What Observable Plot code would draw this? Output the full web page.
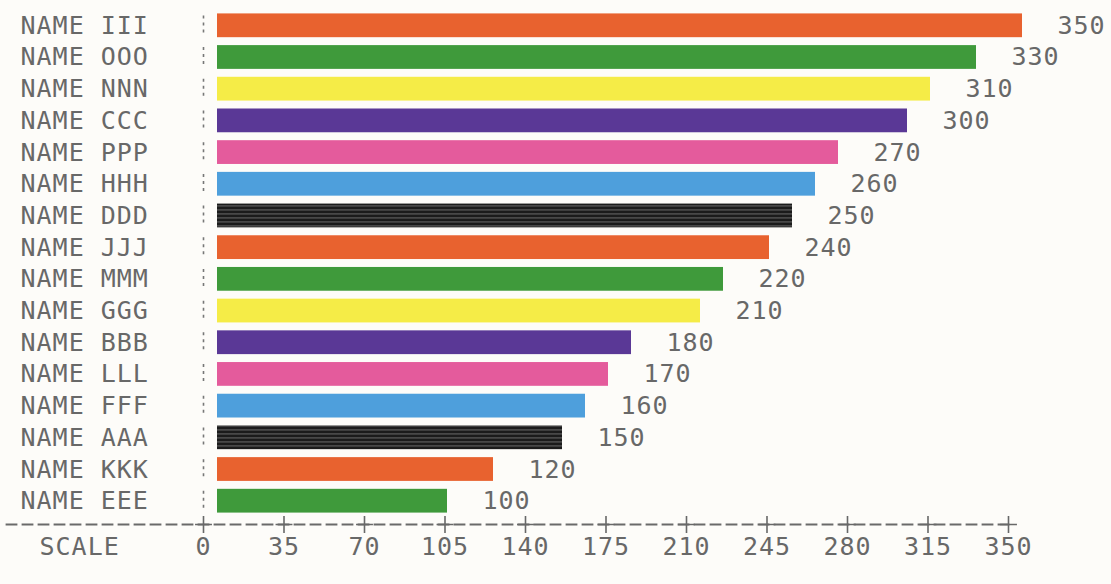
<!DOCTYPE html>
<html>
<head>
<meta charset="utf-8">
<script src="https://cdn.jsdelivr.net/npm/d3@7"></script>
<script src="https://cdn.jsdelivr.net/npm/@observablehq/plot@0.6"></script>
<style>
  html, body { margin: 0; padding: 0; background: #fdfcf9; }
</style>
</head>
<body>
<div id="chart"></div>
<script>
const names = ["NAME III","NAME OOO","NAME NNN","NAME CCC","NAME PPP","NAME HHH","NAME DDD","NAME JJJ",
               "NAME MMM","NAME GGG","NAME BBB","NAME LLL","NAME FFF","NAME AAA","NAME KKK","NAME EEE"];
const values = [350,330,310,300,270,260,250,240,220,210,180,170,160,150,120,100];
const palette = ["#e8622f","#3f9a3b","#f5ec47","#5a3896","#e45b9c","#4e9fdc","url(#streak)"];
const scaleTicks = [0,35,70,105,140,175,210,245,280,315,350];
const scaleLabel = "SCALE";

const data = names.map((n, i) => ({name: n, value: values[i], color: palette[i % palette.length]}));

const FONT = "DejaVu Sans Mono";
const INK = "#686868";
const FS = 25;

const chart = Plot.plot({
  width: 1111,
  height: 584,
  marginLeft: 203,
  marginRight: 103,
  marginTop: 2,
  marginBottom: 60,
  x: {domain: [0, 350], axis: null},
  y: {domain: names, axis: null, paddingInner: 0.25, paddingOuter: 0.36, round: false},
  color: {type: "identity"},
  style: {background: "#fdfcf9", fontFamily: FONT, color: INK, overflow: "visible", letterSpacing: "1px"},
  marks: [
    Plot.barX(data, {x: "value", y: "name", fill: "color", dx: 14}),
    Plot.tickX(data, {x: () => 0, y: "name", stroke: "#777", strokeWidth: 1.6, strokeDasharray: "3,4", insetTop: 2, insetBottom: 2}),
    Plot.text(data, {y: "name", text: "name", frameAnchor: "left", dx: -183, textAnchor: "start", fontSize: FS, fill: INK}),
    Plot.text(data, {x: "value", y: "name", text: d => String(d.value), textAnchor: "start", dx: 49, dy: 0, fontSize: FS, fill: INK}),
    Plot.frame({anchor: "bottom", stroke: "#6a6a6a", strokeWidth: 1.8, strokeDasharray: "10,6", strokeDashoffset: -4, insetLeft: -201}),
    Plot.dot(scaleTicks, {x: d => d, frameAnchor: "bottom", symbol: "plus", r: 5.5, stroke: INK, strokeWidth: 1.6}),
    Plot.text(scaleTicks, {x: d => d, text: d => String(d), frameAnchor: "bottom", dy: 30, fontSize: FS, fill: INK}),
    Plot.text([scaleLabel], {text: d => d, frameAnchor: "bottom-left", dx: -164, dy: 30, textAnchor: "start", fontSize: FS, fill: INK})
  ]
});

const svg = chart.tagName.toLowerCase() === "svg" ? chart : chart.querySelector("svg");
const ns = "http://www.w3.org/2000/svg";
const defs = document.createElementNS(ns, "defs");
defs.innerHTML = `<pattern id="streak" width="12" height="4" patternUnits="userSpaceOnUse">
  <rect width="12" height="4" fill="#1b1b1b"></rect>
  <rect y="1.6" width="12" height="0.7" fill="#8a8a8a"></rect>
</pattern>`;
svg.insertBefore(defs, svg.firstChild);
document.getElementById("chart").appendChild(chart);
</script>
</body>
</html>
